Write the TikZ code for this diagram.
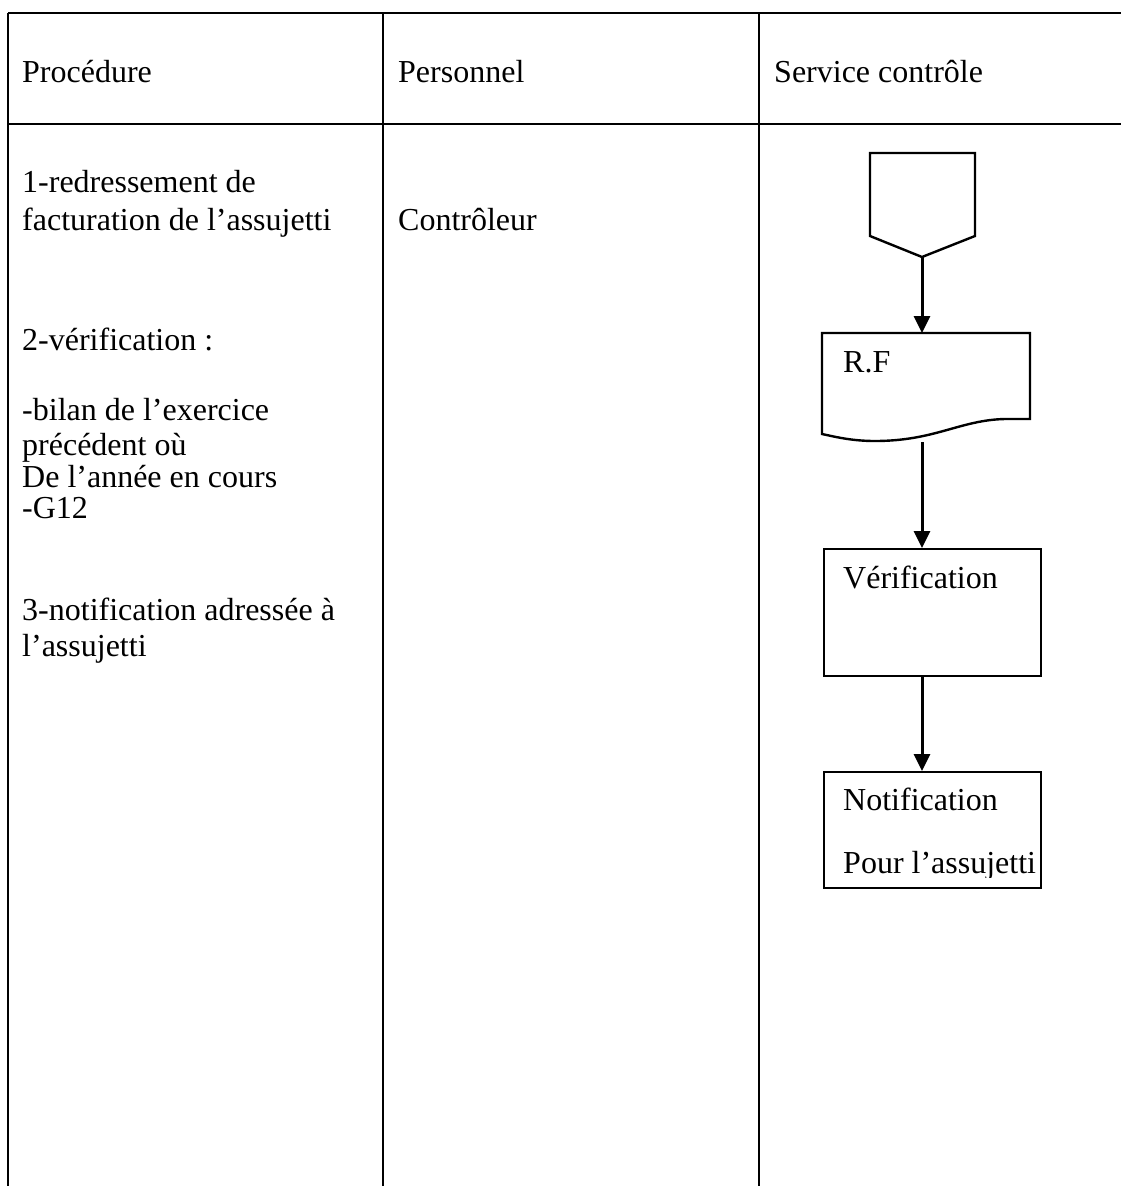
\documentclass[tikz,border=0pt]{standalone}
\usepackage{fontspec}
\setmainfont{Liberation Serif}
\usetikzlibrary{arrows.meta}
\begin{document}
\begin{tikzpicture}[x=1pt,y=-1pt,
  rule/.style={line width=2.8pt},
  shapeline/.style={line width=2.4pt, line join=miter},
  flow/.style={line width=3pt, -{Triangle[length=17pt,width=16pt]}},
  txt/.style={anchor=base west, inner sep=0pt, font=\fontsize{32}{36}\selectfont},
  boxnode/.style={draw, shapeline, rectangle, anchor=north west, inner sep=0pt}]
\useasboundingbox (0,0) rectangle (1121,1186);

% table frame
\coordinate (tl) at (8,13);
\coordinate (tr) at (1121,13);
\coordinate (hl) at (8,124);
\coordinate (hr) at (1121,124);
\coordinate (c1t) at (383,13);
\coordinate (c1b) at (383,1186);
\coordinate (c2t) at (759,13);
\coordinate (c2b) at (759,1186);
\coordinate (bl) at (8,1186);
\draw[rule] (tl) -- (tr);
\draw[rule] (hl) -- (hr);
\draw[rule] (tl) -- (bl);
\draw[rule] (c1t) -- (c1b);
\draw[rule] (c2t) -- (c2b);

% headers
\node[txt] (hproc) at (22,82) {Procédure};
\node[txt] (hpers) at (398,82) {Personnel};
\node[txt] (hserv) at (774,82) {Service contrôle};

% procedure column
\node[txt] (p1a) at (22,192) {1-redressement de};
\node[txt] (p1b) at (22,230) {facturation de l’assujetti};
\node[txt] (pers) at (398,230) {Contrôleur};
\node[txt] (p2a) at (22,350) {2-vérification :};
\node[txt] (p2b) at (22,420) {-bilan de l’exercice};
\node[txt] (p2c) at (22,455) {précédent où};
\node[txt] (p2d) at (22,487) {De l’année en cours};
\node[txt] (p2e) at (22,518) {-G12};
\node[txt] (p3a) at (22,620) {3-notification adressée à};
\node[txt] (p3b) at (22,656) {l’assujetti};

% off-page connector
\draw[shapeline] (870,153) -- (975,153) -- (975,236) -- (922,257) -- (870,236) -- cycle;
\coordinate (offtip) at (922,257);

% document shape R.F
\draw[shapeline] (822,333) -- (1030,333) -- (1030,419) -- (1005,419)
  .. controls (960,420) and (935,441) .. (875,441)
  .. controls (852,441) and (836,437) .. (822,434) -- cycle;
\coordinate (rftop) at (922,333);
\coordinate (rfbot) at (922,442);
\node[txt] (rf) at (843,372) {R.F};

% process boxes
\node[boxnode, minimum width=217pt, minimum height=127pt] (verif) at (823,548) {};
\coordinate (veriftop) at (922,548);
\coordinate (verifbot) at (922,675);
\node[txt] (veriftxt) at (843,588) {Vérification};
\node[boxnode, minimum width=217pt, minimum height=116pt] (notif) at (823,771) {};
\coordinate (notiftop) at (922,771);
\node[txt] (notiftxt) at (843,810) {Notification};
\begin{scope}
  \clip (823,771) rectangle (1040,877);
  \node[txt] (notiftxtb) at (843,873) {Pour l’assujetti};
\end{scope}

% connectors
\draw[flow] (offtip) -- (rftop);
\draw[flow] (rfbot) -- (veriftop);
\draw[flow] (verifbot) -- (notiftop);
\end{tikzpicture}
\end{document}
